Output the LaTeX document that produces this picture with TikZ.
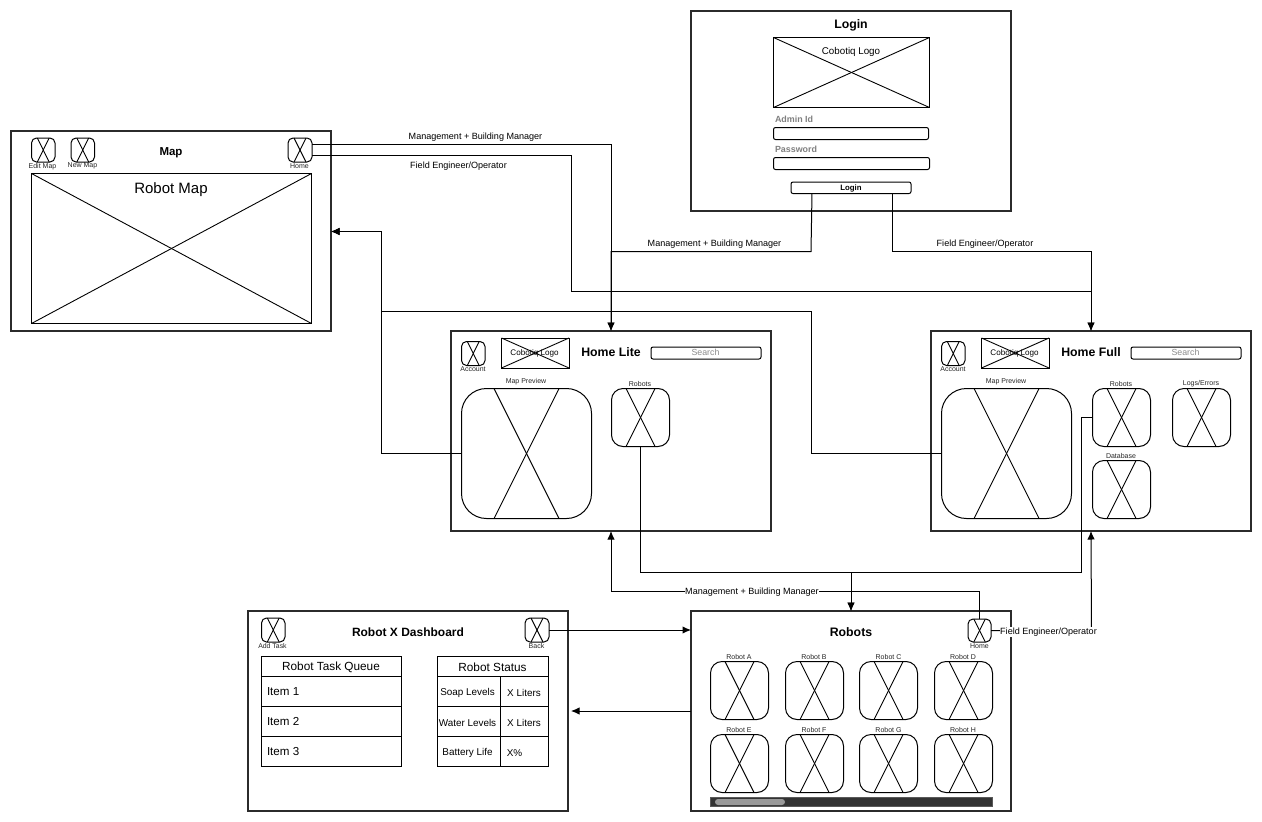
\documentclass[tikz,border=0pt]{standalone}
\usepackage{fontspec}
\setmainfont{Liberation Sans}
\usetikzlibrary{calc,arrows.meta}
\definecolor{frm}{HTML}{2B2B2B}
\tikzset{
  x=1pt,y=-1pt,
  box/.style={draw=black,line width=1pt,fill=white,inner sep=0pt,outer sep=0pt,anchor=north west},
  frame/.style={draw=frm,line width=2.3pt,fill=white,inner sep=0pt,outer sep=0pt,anchor=north west},
  crossline/.style={draw=black,line width=0.9pt},
  wire/.style={draw=black,line width=1pt},
  arrowwire/.style={wire,-{Latex[length=8.5pt,width=7.5pt]}},
  lab/.style={inner sep=0pt,outer sep=0pt,yshift=-0.8pt,text=black,font=\fontsize{7.6}{9}\selectfont},
  small/.style={lab,text=black!85,font=\fontsize{7}{8}\selectfont},
  edgelab/.style={lab,font=\fontsize{9.05}{10}\selectfont},
  edgelabw/.style={edgelab,fill=white,inner xsep=0.5pt,inner ysep=1pt},
  titlelab/.style={lab,font=\bfseries\fontsize{12.3}{14}\selectfont},
  body/.style={lab,font=\fontsize{9.8}{11}\selectfont},
  cell/.style={lab,font=\fontsize{9.9}{11}\selectfont},
  head/.style={lab,font=\fontsize{11.8}{13}\selectfont},
  item/.style={lab,anchor=west,font=\fontsize{11.6}{13}\selectfont},
  graylab/.style={lab,anchor=west,text=black!50,font=\bfseries\fontsize{8.9}{10}\selectfont},
  search/.style={lab,text=black!45,font=\fontsize{8.8}{10}\selectfont},
}
% name, x, y, w, h
\newcommand{\frameBox}[5]{\node[frame,minimum width=#4pt,minimum height=#5pt] (#1) at (#2,#3) {};}
% name, x, y, w, h, radius : rounded box with a steep cross
\newcommand{\crossBox}[6]{%
  \node[box,rounded corners=#6pt,minimum width=#4pt,minimum height=#5pt] (#1) at (#2,#3) {};
  \draw[crossline] ($(#1.north west)!.25!(#1.north east)$) -- ($(#1.south west)!.75!(#1.south east)$);
  \draw[crossline] ($(#1.north west)!.75!(#1.north east)$) -- ($(#1.south west)!.25!(#1.south east)$);}
% name, x, y, w, h : square box with a corner-to-corner cross
\newcommand{\diagBox}[5]{%
  \node[box,minimum width=#4pt,minimum height=#5pt] (#1) at (#2,#3) {};
  \draw[crossline] (#1.north west) -- (#1.south east);
  \draw[crossline] (#1.north east) -- (#1.south west);}
% name, x, y, w, h, radius : plain rounded field
\newcommand{\fieldBox}[6]{\node[box,rounded corners=#6pt,minimum width=#4pt,minimum height=#5pt] (#1) at (#2,#3) {};}
\begin{document}
\begin{tikzpicture}
\useasboundingbox (0,0) rectangle (1262,822);

% ---------- Login
\frameBox{login}{691}{11}{320}{200}
\node[titlelab] (loginT) at (851,25) {Login};
\diagBox{loginLogo}{773.5}{37.5}{156}{70}
\node[body] (loginLogoT) at (851,51) {Cobotiq Logo};
\node[graylab] (adminT) at (775,119) {Admin Id};
\fieldBox{adminF}{773.5}{127.5}{155}{12}{2}
\node[graylab] (passT) at (775,149) {Password};
\fieldBox{passF}{773.5}{157.5}{156}{12}{2}
\fieldBox{loginBtn}{791}{182}{120}{11.5}{2}
\node[lab,font=\bfseries\fontsize{7.8}{9}\selectfont] (loginBtnT) at (851,188) {Login};

% ---------- Map
\frameBox{map}{11}{131}{320}{200}
\crossBox{editMap}{31.5}{138}{23.5}{24}{5}
\node[small] (editMapT) at (42.5,165.5) {Edit Map};
\crossBox{newMap}{71}{138}{23.5}{24}{5}
\node[small] (newMapT) at (82.5,165.5) {New Map};
\crossBox{mapHome}{288}{138}{24}{24}{5}
\node[small] (mapHomeT) at (299.5,165.5) {Home};
\node[titlelab,font=\bfseries\fontsize{11.5}{13}\selectfont] (mapT) at (171,151.5) {Map};
\diagBox{robotMap}{31.5}{173.5}{280}{150}
\node[lab,font=\fontsize{15}{18}\selectfont] (robotMapT) at (171,188.5) {Robot Map};

% ---------- Home Lite
\frameBox{lite}{451}{331}{320}{200}
\crossBox{liteAcc}{461.5}{341.5}{23.5}{24}{5}
\node[small] (liteAccT) at (473,368) {Account};
\diagBox{liteLogo}{501.5}{338}{67.5}{30}
\node[lab,font=\fontsize{8.1}{10}\selectfont] (liteLogoT) at (534.5,352.5) {Cobotiq Logo};
\node[titlelab] (liteT) at (611,351.5) {Home Lite};
\fieldBox{liteSearch}{651}{347}{110}{12}{2}
\node[search] (liteSearchT) at (705.5,351.5) {Search};
\crossBox{liteMap}{461.5}{388.5}{130}{130}{25}
\node[small] (liteMapT) at (526,381) {Map Preview};
\crossBox{liteRob}{611.5}{388.5}{58}{58}{11.5}
\node[small] (liteRobT) at (640,383) {Robots};

% ---------- Home Full
\frameBox{full}{931}{331}{320}{200}
\crossBox{fullAcc}{941.5}{341.5}{23.5}{24}{5}
\node[small] (fullAccT) at (953,368) {Account};
\diagBox{fullLogo}{981.5}{338}{67.5}{30}
\node[lab,font=\fontsize{8.1}{10}\selectfont] (fullLogoT) at (1014.5,352.5) {Cobotiq Logo};
\node[titlelab] (fullT) at (1091,351.5) {Home Full};
\fieldBox{fullSearch}{1131}{347}{110}{12}{2}
\node[search] (fullSearchT) at (1185.5,351.5) {Search};
\crossBox{fullMap}{941.5}{388.5}{130}{130}{25}
\node[small] (fullMapT) at (1006,381) {Map Preview};
\crossBox{fullRob}{1092.5}{388.5}{58}{58}{11.5}
\node[small] (fullRobT) at (1121,383) {Robots};
\crossBox{fullLogs}{1172.5}{388.5}{58}{58}{11.5}
\node[small] (fullLogsT) at (1201,383) {Logs/Errors};
\crossBox{fullDb}{1092.5}{460.5}{58}{58}{11.5}
\node[small] (fullDbT) at (1121,455) {Database};

% ---------- Robot X Dashboard
\frameBox{dash}{248}{611}{320}{200}
\crossBox{addTask}{261.5}{618}{23.5}{24}{5}
\node[lab,text=black!85,font=\fontsize{6.9}{8}\selectfont] (addTaskT) at (272.5,645) {Add Task};
\crossBox{back}{525}{618}{24}{24}{5}
\node[small] (backT) at (536.5,645) {Back};
\node[titlelab,font=\bfseries\fontsize{12}{14}\selectfont] (dashT) at (408,631.5) {Robot X Dashboard};
\node[box,minimum width=140pt,minimum height=110pt] (queue) at (261.5,656.5) {};
\draw[wire] (261.5,676.5) -- (401.5,676.5) (261.5,706.5) -- (401.5,706.5) (261.5,736.5) -- (401.5,736.5);
\node[head] (queueT) at (331,666.5) {Robot Task Queue};
\node[item] (item1) at (267,691) {Item 1};
\node[item] (item2) at (267,721) {Item 2};
\node[item] (item3) at (267,751) {Item 3};
\node[box,minimum width=111.5pt,minimum height=110pt] (status) at (437,656.5) {};
\draw[wire] (437,676.5) -- (548.5,676.5) (437,706.5) -- (548.5,706.5) (437,736.5) -- (548.5,736.5);
\draw[wire] (500,676.5) -- (500,766.5);
\node[head] (statusT) at (492.5,666.5) {Robot Status};
\node[cell] (soap) at (467.5,692.5) {Soap Levels};
\node[cell] (soapV) at (524,692.5) {X Liters};
\node[cell] (water) at (467.5,722.5) {Water Levels};
\node[cell] (waterV) at (524,722.5) {X Liters};
\node[cell] (batt) at (467.5,752.5) {Battery Life};
\node[cell] (battV) at (514.5,752.5) {X\%};

% ---------- Robots
\frameBox{robots}{691}{611}{320}{200}
\node[titlelab] (robotsT) at (851,631.5) {Robots};
\crossBox{robHome}{968}{619}{23}{23}{5}
\node[small] (robHomeT) at (979.5,645) {Home};
\crossBox{rA}{710.5}{661.5}{58}{58}{11.5}
\node[small] (rAT) at (739,656) {Robot A};
\crossBox{rB}{785.5}{661.5}{58}{58}{11.5}
\node[small] (rBT) at (814,656) {Robot B};
\crossBox{rC}{859.5}{661.5}{58}{58}{11.5}
\node[small] (rCT) at (888.5,656) {Robot C};
\crossBox{rD}{934.5}{661.5}{58}{58}{11.5}
\node[small] (rDT) at (963,656) {Robot D};
\crossBox{rE}{710.5}{734.5}{58}{58}{11.5}
\node[small] (rET) at (739,729) {Robot E};
\crossBox{rF}{785.5}{734.5}{58}{58}{11.5}
\node[small] (rFT) at (814,729) {Robot F};
\crossBox{rG}{859.5}{734.5}{58}{58}{11.5}
\node[small] (rGT) at (888.5,729) {Robot G};
\crossBox{rH}{934.5}{734.5}{58}{58}{11.5}
\node[small] (rHT) at (963,729) {Robot H};
\node[anchor=north west,fill=black!80,draw=black!65,line width=0.4pt,inner sep=0pt,outer sep=0pt,minimum width=282pt,minimum height=9.5pt] (scroll) at (710.5,797) {};
\node[anchor=north west,fill=black!40,rounded corners=3pt,inner sep=0pt,outer sep=0pt,minimum width=70pt,minimum height=6pt] (thumb) at (715,799) {};

% ---------- Connectors
\draw[arrowwire] ([xshift=-39pt]loginBtn.south) -- (811,251.5) -- (611,251.5) -- (lite.north);
\draw[arrowwire] ([xshift=41pt]loginBtn.south) -- (892,251.5) -- (1091,251.5) -- (full.north);
\draw[arrowwire] ([yshift=5.5pt]mapHome.east) -- (611,144.5) -- (lite.north);
\draw[arrowwire] ([yshift=-5pt]mapHome.east) -- (571,155) -- (571,291.5) -- (1091,291.5) -- (full.north);
\draw[arrowwire] (liteMap.west) -- (381.5,453.5) -- (381.5,231.5) -- (map.east |- 0,231.5);
\draw[arrowwire] (fullMap.west) -- (811.5,453.5) -- (811.5,311.5) -- (381.5,311.5) -- (381.5,231.5) -- (map.east |- 0,231.5);
\draw[arrowwire] (liteRob.south) -- (640.5,572.5) -- (851,572.5) -- (robots.north);
\draw[arrowwire] (fullRob.west) -- (1081.5,417.5) -- (1081.5,572.5) -- (851,572.5) -- (robots.north);
\draw[arrowwire] (robHome.north) -- (979.5,591.5) -- (611,591.5) -- (lite.south);
\draw[arrowwire] (robHome.east) -- (1091.5,630.5) -- (full.south);
\draw[arrowwire] (back.east) -- (robots.west |- back.east);
\draw[arrowwire] (robots.west) -- ([xshift=3pt]dash.east);

% ---------- Connector labels
\node[edgelab] (e1) at (475.5,136) {Management + Building Manager};
\node[edgelab] (e2) at (458.5,165) {Field Engineer/Operator};
\node[edgelab] (e3) at (714.5,243) {Management + Building Manager};
\node[edgelab] (e4) at (985,243) {Field Engineer/Operator};
\node[edgelabw] (e5) at (752,591.5) {Management + Building Manager};
\node[edgelabw] (e6) at (1048.5,631) {Field Engineer/Operator};
\end{tikzpicture}
\end{document}
